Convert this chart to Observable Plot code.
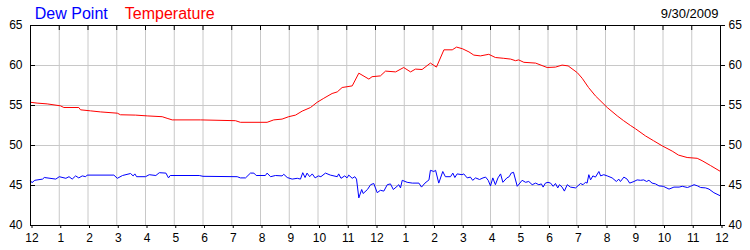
<!DOCTYPE html>
<html><head><meta charset="utf-8">
<script src="https://cdn.jsdelivr.net/npm/d3@7"></script>
<script src="https://cdn.jsdelivr.net/npm/@observablehq/plot@0.6"></script>
<style>
body{margin:0;background:#fff;}
#chart svg{display:block;}
</style></head><body><div id="chart"></div>
<script>
// ---- data (hours since midnight, °F) ----
const tempHours = [0,0.23,0.58,1.04,1.16,1.68,1.74,2.09,2.43,3.02,3.13,3.65,4.06,4.58,4.75,4.93,5.91,7.13,7.30,8.23,8.46,8.75,8.98,9.22,9.45,9.74,9.97,10.2,10.49,10.67,10.84,11.19,11.42,11.77,11.88,12.17,12.35,12.70,12.98,13.22,13.39,13.62,13.91,14.12,14.38,14.67,14.82,15.02,15.25,15.42,15.65,15.94,16.17,16.46,16.70,16.87,16.98,17.16,17.57,17.97,18.26,18.49,18.7,19.02,19.19,19.41,19.65,20.06,20.41,20.63,20.87,21.04,21.39,21.67,21.97,22.32,22.54,22.84,23.19,23.36,23.65,24];
const tempValues = [55.4,55.3,55.2,54.96,54.75,54.75,54.46,54.33,54.2,54.04,53.84,53.8,53.7,53.6,53.4,53.2,53.2,53.1,52.9,52.9,53.2,53.3,53.6,53.8,54.3,54.75,55.4,55.9,56.5,56.7,57.25,57.45,59.04,58.3,58.6,58.7,59.3,59.2,59.75,59.2,59.55,59.5,60.3,59.8,61.96,61.96,62.3,62.1,61.7,61.3,61.2,61.4,61.0,60.9,60.8,60.6,60.7,60.4,60.3,59.75,59.8,60.05,59.95,59.1,58.4,57.25,56.2,54.75,53.7,53.1,52.5,52.1,51.2,50.6,49.96,49.3,48.8,48.5,48.4,48.1,47.5,46.75];

const dewHours = [0,0.05,0.15,0.42,0.48,0.88,1.0,1.23,1.34,1.45,1.57,1.68,1.8,1.92,1.97,2.9,3.02,3.2,3.48,3.57,3.63,3.69,4.0,4.13,4.36,4.48,4.71,4.8,4.86,5.87,6.0,7.19,7.3,7.48,7.65,7.77,7.85,8.17,8.23,8.35,8.52,8.75,8.81,8.93,9.1,9.28,9.39,9.47,9.55,9.62,9.71,9.8,9.9,10.01,10.1,10.26,10.43,10.67,10.72,10.8,10.93,11.01,11.07,11.19,11.28,11.34,11.42,11.52,11.57,11.72,11.83,11.94,12.06,12.17,12.29,12.41,12.52,12.62,12.75,12.81,12.87,12.93,13.1,13.28,13.51,13.6,13.72,13.86,13.91,14.03,14.09,14.2,14.34,14.43,14.61,14.69,14.76,14.84,15.01,15.07,15.19,15.3,15.38,15.48,15.62,15.74,15.83,15.92,16.0,16.08,16.17,16.26,16.35,16.43,16.57,16.65,16.72,16.8,16.93,17.1,17.22,17.33,17.45,17.57,17.68,17.77,17.83,17.91,18.0,18.09,18.18,18.26,18.34,18.4,18.49,18.57,18.67,18.78,18.96,19.13,19.22,19.3,19.36,19.42,19.48,19.56,19.65,19.77,19.83,19.94,20.06,20.23,20.38,20.46,20.52,20.64,20.75,20.84,20.99,21.1,21.22,21.33,21.43,21.51,21.62,21.74,21.86,22.01,22.21,22.38,22.56,22.67,22.85,22.96,23.08,23.2,23.31,23.48,23.6,23.77,24];
const dewValues = [45.6,45.35,45.65,45.8,46.0,45.8,46.1,45.9,46.1,45.8,46.2,45.95,46.2,46.1,46.3,46.3,45.9,46.25,46.5,46.2,46.45,46.1,46.1,46.35,46.25,46.6,46.55,45.95,46.25,46.25,46.15,46.1,45.95,45.95,46.55,46.55,46.25,46.25,46.55,46.1,46.25,46.2,46.4,46.0,45.8,45.9,45.8,46.6,46.0,46.55,46.1,46.45,45.95,46.2,46.1,46.55,46.3,46.1,46.45,45.9,46.2,45.95,46.3,45.9,46.1,45.8,43.45,44.5,44.0,44.5,45.1,45.25,44.1,44.4,44.3,45.1,45.2,44.5,44.9,45.1,44.7,45.65,45.4,45.3,45.3,44.8,45.3,45.7,46.9,46.75,46.9,45.3,46.75,46.1,46.1,46.55,46.0,46.45,46.35,46.45,45.95,46.05,45.65,45.95,45.75,45.95,46.05,45.65,44.95,45.95,45.1,45.95,46.45,45.4,45.95,46.1,46.55,46.65,44.9,45.65,45.4,45.5,45.1,45.3,45.1,45.2,44.8,45.3,45.4,45.3,44.9,45.25,44.7,45.1,44.8,44.3,45.1,44.8,44.7,45.25,45.1,45.4,45.3,46.35,45.7,46.2,46.05,46.75,46.2,46.35,46.2,45.95,45.5,45.8,45.5,46.05,45.8,45.3,45.5,45.7,45.65,45.7,45.5,45.65,45.3,45.2,44.95,44.9,44.55,44.8,44.8,44.9,44.75,44.9,45.1,44.95,44.75,44.7,44.55,44.1,43.7];

const hourTicks = [0,1,2,3,4,5,6,7,8,9,10,11,12,13,14,15,16,17,18,19,20,21,22,23,24];
const hourLabels = ["12","1","2","3","4","5","6","7","8","9","10","11","12","1","2","3","4","5","6","7","8","9","10","11","12"];
const yTicks = [40,45,50,55,60,65];
const seriesNames = ["Dew Point","Temperature"];
const seriesColors = ["#0000ff","#ff0000"];
const dateLabel = "9/30/2009";

const temp = tempHours.map((h, i) => ({h, v: tempValues[i]}));
const dew = dewHours.map((h, i) => ({h, v: dewValues[i]}));

const chart = Plot.plot({
  width: 750, height: 250,
  marginTop: 25, marginBottom: 25, marginLeft: 30, marginRight: 30,
  style: {fontFamily: "'Liberation Sans', Arial, sans-serif", fontSize: "12px", color: "#000", background: "#fff", overflow: "visible"},
  x: {domain: [0, 24]},
  y: {domain: [40, 65]},
  marks: [
    Plot.gridX(hourTicks, {stroke: "#c8c8c8", strokeOpacity: 1}),
    Plot.gridY(yTicks, {stroke: "#c8c8c8", strokeOpacity: 1}),
    Plot.line(dew, {x: "h", y: "v", stroke: seriesColors[0], strokeWidth: 1}),
    Plot.line(temp, {x: "h", y: "v", stroke: seriesColors[1], strokeWidth: 1}),
    Plot.frame({stroke: "#000"}),
    Plot.tickX(hourTicks, {x: d => d, stroke: "#000", insetBottom: 195}),
    Plot.tickY(yTicks, {y: d => d, stroke: "#000", insetRight: 685}),
    Plot.axisX(hourTicks, {anchor: "bottom", tickSize: 3, tickPadding: 5, dx: 1.5, tickFormat: d => hourLabels[d], label: null}),
    Plot.axisY(yTicks, {anchor: "left", tickSize: 0, tickPadding: 8, label: null}),
    Plot.axisY(yTicks, {anchor: "right", tickSize: 4, tickPadding: 4, label: null}),
    Plot.text([seriesNames[0]], {frameAnchor: "top-left", text: d => d, textAnchor: "start", lineAnchor: "bottom", dx: 4.3, dy: -6.5, fill: seriesColors[0], fontSize: 16}),
    Plot.text([seriesNames[1]], {frameAnchor: "top-left", text: d => d, textAnchor: "start", lineAnchor: "bottom", dx: 94.3, dy: -6.5, fill: seriesColors[1], fontSize: 16}),
    Plot.text([dateLabel], {frameAnchor: "top-right", text: d => d, textAnchor: "end", lineAnchor: "bottom", dx: -2, dy: -7.5, fill: "#000", fontSize: 13})
  ]
});
document.getElementById("chart").appendChild(chart);
</script>
</body></html>
